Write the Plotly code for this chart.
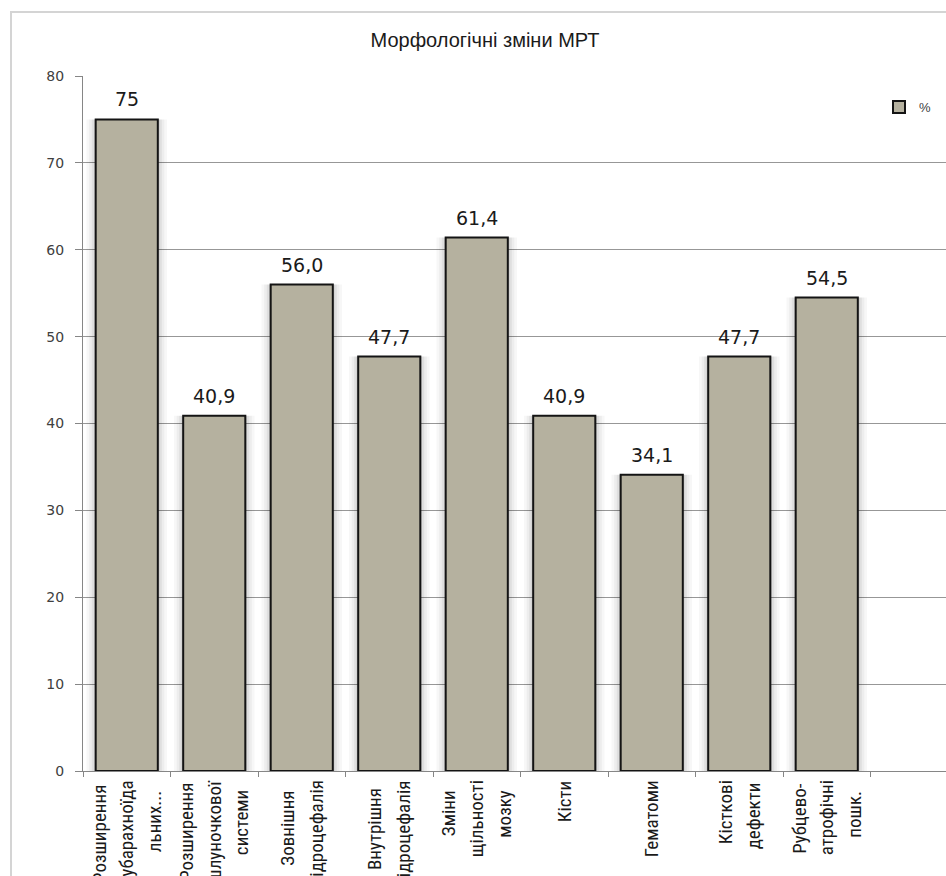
import plotly.graph_objects as go

# ---- data -------------------------------------------------------------
category_lines = [
    ["Розширення", "субарахноїда", "льних..."],
    ["Розширення", "шлуночкової", "системи"],
    ["Зовнішня", "гідроцефалія"],
    ["Внутрішня", "гідроцефалія"],
    ["Зміни", "щільності", "мозку"],
    ["Кісти"],
    ["Гематоми"],
    ["Кісткові", "дефекти"],
    ["Рубцево-", "атрофічні", "пошк."],
]
categories = [" ".join(lines) for lines in category_lines]
values = [75, 40.9, 56.0, 47.7, 61.4, 40.9, 34.1, 47.7, 54.5]
label_decimals = [0, 1, 1, 1, 1, 1, 1, 1, 1]
y_ticks = [0, 10, 20, 30, 40, 50, 60, 70, 80]
series_name = "%"
title_text = "Морфологічні зміни МРТ"

value_text = [f"{v:.{d}f}".replace(".", ",") for v, d in zip(values, label_decimals)]

# ---- geometry ---------------------------------------------------------
W, H = 946, 876
M_L, M_R, M_T, M_B = 83, 0, 76, 105
plot_w = W - M_L - M_R
plot_h = H - M_T - M_B
slot_px = 87.5  # width of one category slot


def px_x(px):
    return (px - M_L) / plot_w


def px_y(py):
    return (H - M_B - py) / plot_h


NARROW = "Liberation Sans Narrow, Arial Narrow, Roboto Condensed, Roboto, sans-serif"
REGULAR = "Liberation Sans, Arial, sans-serif"
WIDE = "DejaVu Sans, Verdana, sans-serif"

fig = go.Figure()

# soft halo around bars
for w, a in [(0.92, 0.03), (0.86, 0.04), (0.80, 0.06), (0.75, 0.08)]:
    fig.add_trace(go.Bar(
        x=categories, y=values, width=w,
        marker=dict(color=f"rgba(0,0,0,{a})", line=dict(width=0)),
        showlegend=False, hoverinfo="skip",
    ))

fig.add_trace(go.Bar(
    x=categories, y=values, name=series_name, width=0.71,
    marker=dict(color="#b5b19f", line=dict(color="#141414", width=2)),
    hoverinfo="x+y",
))

annotations = []

# value captions above the bars
for i, (v, t) in enumerate(zip(values, value_text)):
    annotations.append(dict(
        x=i, xref="x", y=v, yref="y", text=t, showarrow=False,
        xanchor="center", yanchor="bottom", yshift=7,
        font=dict(family=WIDE, size=19, color="#1a1a1a"),
    ))

# multi-line category captions under the axis (lines roughly centred)
line_step = 28
for i, lines in enumerate(category_lines):
    n = len(lines)
    longest = max(len(s) for s in lines)
    for j, s in enumerate(lines):
        annotations.append(dict(
            x=i, xref="x", y=0, yref="paper",
            text=s, showarrow=False, textangle=-90,
            xanchor="center", yanchor="top",
            xshift=(j - (n - 1) / 2) * line_step,
            yshift=-7 - (longest - len(s)) * 2.6,
            font=dict(family=NARROW, size=19, color="#1a1a1a"),
        ))

# outer chart frame
fig.add_shape(
    type="rect", xref="paper", yref="paper",
    x0=px_x(11), x1=px_x(W + 20), y0=px_y(H + 20), y1=px_y(12),
    line=dict(color="#d4d4d4", width=2), fillcolor="rgba(0,0,0,0)", layer="below",
)

fig.update_layout(
    width=W, height=H,
    margin=dict(l=M_L, r=M_R, t=M_T, b=M_B, autoexpand=False),
    paper_bgcolor="white", plot_bgcolor="white",
    barmode="overlay",
    title=dict(text=title_text, x=px_x(485), xref="paper", xanchor="center",
               y=1 - 40 / H, yanchor="middle",
               font=dict(family=REGULAR, size=20, color="#1a1a1a")),
    showlegend=True,
    legend=dict(x=px_x(879), y=px_y(107), xanchor="left", yanchor="middle",
                bgcolor="rgba(0,0,0,0)", font=dict(family=REGULAR, size=13, color="#404040"),
                itemwidth=30),
    annotations=annotations,
    xaxis=dict(
        type="category", categoryorder="array", categoryarray=categories,
        range=[-0.5, -0.5 + plot_w / slot_px],
        showticklabels=False, ticks="outside", tickson="boundaries",
        ticklen=5, tickcolor="#868686",
        showline=True, linecolor="#868686", linewidth=1,
        showgrid=False, zeroline=False, automargin=False,
    ),
    yaxis=dict(
        range=[0, 80], tickvals=y_ticks,
        ticks="outside", ticklen=7, tickcolor="#868686",
        ticklabelstandoff=8,
        showline=True, linecolor="#868686", linewidth=1,
        showgrid=True, gridcolor="#979797", gridwidth=1,
        zeroline=False, automargin=False,
        tickfont=dict(family=WIDE, size=14, color="#404040"),
    ),
)

fig.write_html("out.html")
